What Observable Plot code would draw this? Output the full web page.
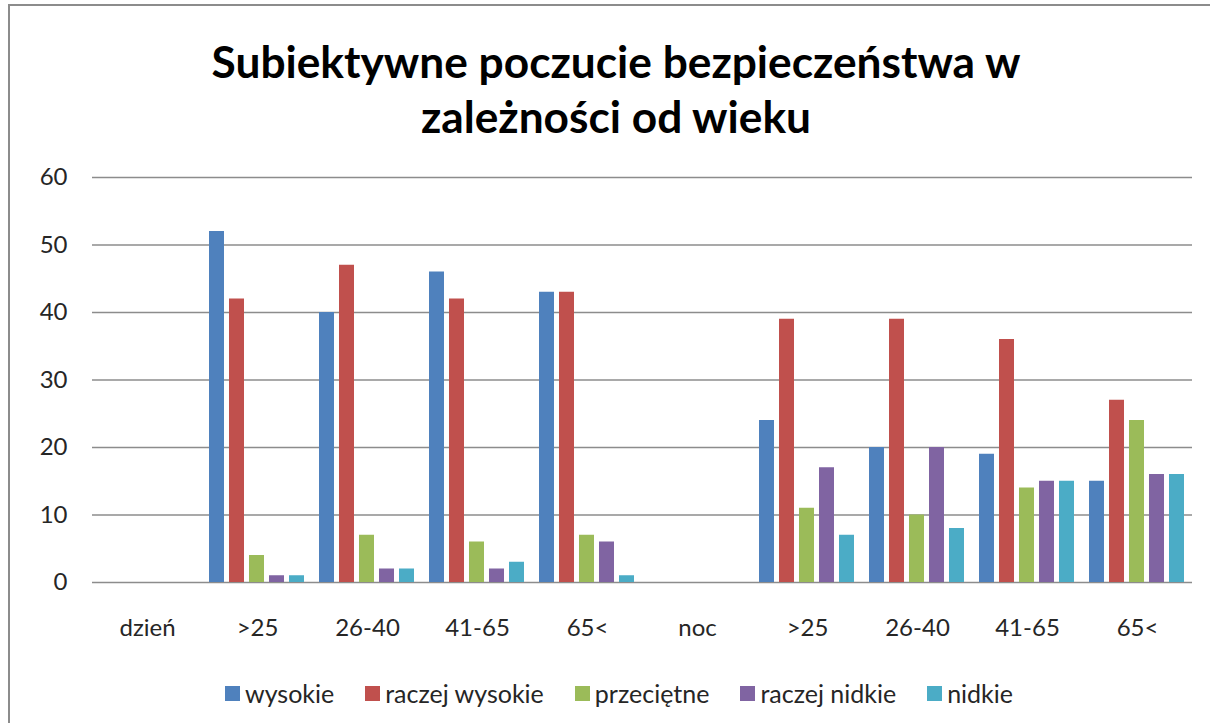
<!DOCTYPE html>
<html>
<head>
<meta charset="utf-8">
<script src="https://cdn.jsdelivr.net/npm/d3@7"></script>
<script src="https://cdn.jsdelivr.net/npm/@observablehq/plot@0.6"></script>
<style>
  html, body { margin: 0; padding: 0; background: #fff; width: 1210px; height: 723px; overflow: hidden; }
  #frame { position: absolute; left: 8px; top: 4px; width: 1300px; height: 800px; border: 2px solid #8c8c8c; box-sizing: border-box; }
  #title { position: absolute; left: 0; top: 0; }
  #chart { position: absolute; left: 0; top: 150px; }
  #legend { position: absolute; left: 225px; top: 678px; display: flex; align-items: center; font-family: Lato, sans-serif; font-size: 25px; color: #262626; white-space: nowrap; }
  #legend .item { display: flex; align-items: center; margin-right: 31px; }
  #legend .sw { width: 15px; height: 15px; margin-right: 5px; }
</style>
</head>
<body>
<div id="frame"></div>
<svg id="title" width="1210" height="150"></svg>
<div id="chart"></div>
<div id="legend"></div>
<script>
const titleLines = ["Subiektywne poczucie bezpieczeństwa w", "zależności od wieku"];
const categories = ["dzień", ">25", "26-40", "41-65", "65<", "noc", ">25", "26-40", "41-65", "65<"];
const series = ["wysokie", "raczej wysokie", "przeciętne", "raczej nidkie", "nidkie"];
const colors = ["#4F81BD", "#C0504D", "#9BBB59", "#8064A2", "#4BACC6"];
const yTicks = [0, 10, 20, 30, 40, 50, 60];

const wysokie       = [null, 52, 40, 46, 43, null, 24, 20, 19, 15];
const raczejWysokie = [null, 42, 47, 42, 43, null, 39, 39, 36, 27];
const przecietne    = [null, 4, 7, 6, 7, null, 11, 10, 14, 24];
const raczejNidkie  = [null, 1, 2, 2, 6, null, 17, 20, 15, 16];
const nidkie        = [null, 1, 2, 3, 1, null, 7, 8, 15, 16];

const seriesValues = [wysokie, raczejWysokie, przecietne, raczejNidkie, nidkie];
const data = [];
categories.forEach((c, i) => {
  series.forEach((s, j) => {
    const v = seriesValues[j][i];
    if (v != null) data.push({cat: i, series: s, value: v});
  });
});
// gridline table: one row per category and tick, so every category panel is drawn
const grid = [];
categories.forEach((c, i) => yTicks.forEach(t => grid.push({cat: i, v: t})));

// Title
const tsvg = d3.select("#title");
const tg = tsvg.append("g");
const baselines = [78, 133];
const tTexts = titleLines.map((t, k) => tg.append("text")
  .attr("x", 616).attr("y", baselines[k])
  .attr("text-anchor", "middle")
  .attr("font-family", "Lato, sans-serif")
  .attr("font-weight", "bold")
  .attr("font-size", 40)
  .attr("fill", "#000")
  .text(t));
const len = tTexts[0].node().getComputedTextLength();
const fs = 40 * 809 / len;
tTexts.forEach(t => t.attr("font-size", fs));

const chart = Plot.plot({
  width: 1210,
  height: 500,
  marginLeft: 91,
  marginRight: 17,
  marginTop: 27,
  marginBottom: 68,
  style: {fontFamily: "Lato, sans-serif", fontSize: "24px", color: "#262626", background: "transparent", overflow: "visible"},
  fx: {domain: d3.range(categories.length), padding: 0, tickFormat: i => categories[i], label: null},
  x: {domain: series, axis: null, paddingInner: 0.24, paddingOuter: 0.315},
  y: {domain: [0, 60], label: null},
  color: {domain: series, range: colors},
  marks: [
    Plot.ruleY(grid, {fx: "cat", y: "v", stroke: "#8c8c8c", strokeWidth: 1.3}),
    Plot.barY(data, {fx: "cat", x: "series", y: "value", fill: "series"}),
    Plot.axisFx({anchor: "bottom", tickSize: 0, tickPadding: 36, tickFormat: i => categories[i], label: null}),
    Plot.axisY(yTicks, {anchor: "left", facetAnchor: "left", tickSize: 0, tickPadding: 25, label: null})
  ]
});
document.getElementById("chart").appendChild(chart);

// Legend
const legend = d3.select("#legend");
series.forEach((s, j) => {
  const it = legend.append("div").attr("class", "item");
  it.append("div").attr("class", "sw").style("background", colors[j]);
  it.append("span").text(s);
});
</script>
</body>
</html>
